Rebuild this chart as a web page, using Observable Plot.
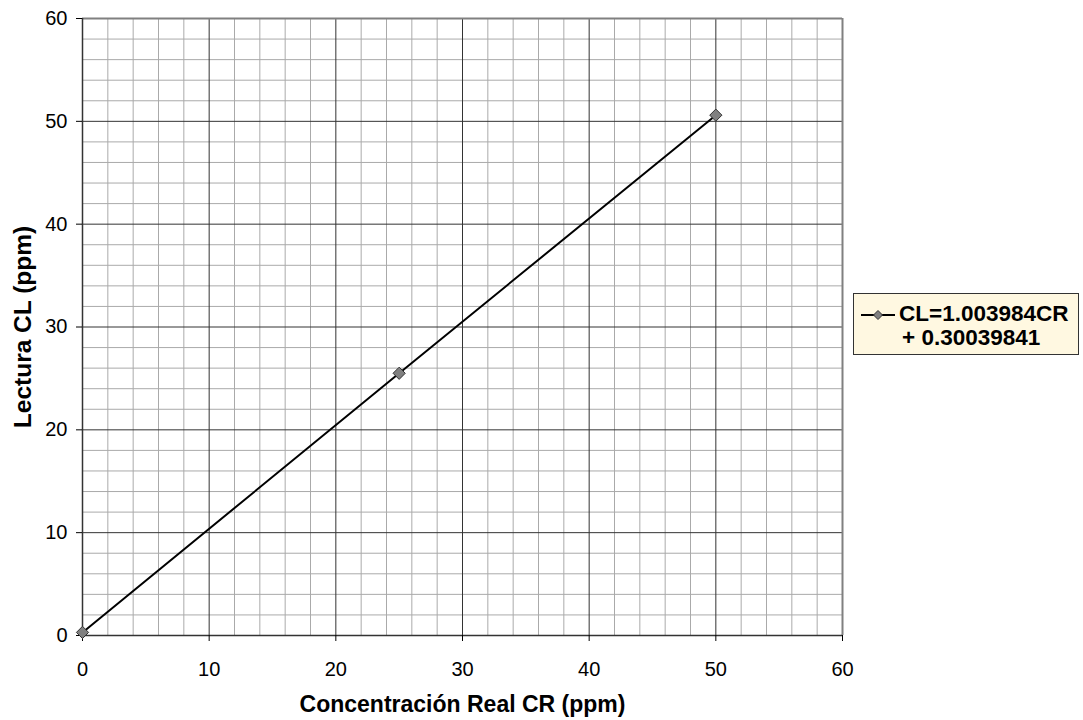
<!DOCTYPE html>
<html>
<head>
<meta charset="utf-8">
<script src="https://cdn.jsdelivr.net/npm/d3@7"></script>
<script src="https://cdn.jsdelivr.net/npm/@observablehq/plot@0.6"></script>
<style>
  html, body { margin: 0; padding: 0; background: #fff; }
  body { width: 1083px; height: 720px; position: relative; font-family: "Liberation Sans", Arial, sans-serif; }
  #legend {
    position: absolute; left: 853px; top: 293px; width: 226px; height: 62px;
    background: #fff8e1; border: 1px solid #333; box-sizing: border-box;
    font-weight: bold; font-size: 22.5px; color: #000;
  }
  #legend svg { position: absolute; left: 6px; top: 14px; }
  #legend .txt { position: absolute; left: 45px; top: 8px; line-height: 23.5px; white-space: nowrap; }
  #legend .l2 { padding-left: 3px; }
</style>
</head>
<body>
<div id="chart"></div>
<div id="legend">
  <svg width="36" height="14"><line x1="1" y1="7" x2="35" y2="7" stroke="#000" stroke-width="2"/><path d="M18,2.5 L22.5,7 L18,11.5 L13.5,7 Z" fill="#808080" stroke="#333" stroke-width="1"/></svg>
  <div class="txt">CL=1.003984CR<br><span class="l2">+ 0.30039841</span></div>
</div>
<script>
const concReal = [0, 25, 50];
const lectura = [0.3, 25.5, 50.6];
const majorTicks = [0, 10, 20, 30, 40, 50, 60];
const minorTicks = [2, 4, 6, 8, 12, 14, 16, 18, 22, 24, 26, 28, 32, 34, 36, 38, 42, 44, 46, 48, 52, 54, 56, 58];
const legendLabel = "CL=1.003984CR + 0.30039841";

const data = concReal.map((x, i) => ({x, y: lectura[i]}));

const chart = Plot.plot({
  width: 1083,
  height: 720,
  marginLeft: 82,
  marginRight: 241,
  marginTop: 18,
  marginBottom: 85,
  style: {fontFamily: "'Liberation Sans', Arial, sans-serif", fontSize: "20px", color: "#000", background: "#fff"},
  x: {domain: [0, 60]},
  y: {domain: [0, 60]},
  marks: [
    Plot.ruleX(minorTicks, {stroke: "#aaaaaa", strokeWidth: 1}),
    Plot.ruleY(minorTicks, {stroke: "#aaaaaa", strokeWidth: 1}),
    Plot.ruleX(majorTicks.slice(1, -1), {stroke: "#333333", strokeWidth: 1}),
    Plot.ruleY(majorTicks.slice(1, -1), {stroke: "#333333", strokeWidth: 1}),
    Plot.ruleX([60], {stroke: "#808080", strokeWidth: 2}),
    Plot.ruleY([60], {stroke: "#808080", strokeWidth: 2}),
    Plot.ruleX([0], {stroke: "#333", strokeWidth: 1.5}),
    Plot.ruleY([0], {stroke: "#333", strokeWidth: 1.5}),
    Plot.axisX({ticks: majorTicks, tickSize: 6, tickPadding: 20, fontSize: 20, label: "Concentración Real CR (ppm)", labelAnchor: "center", labelOffset: 76, labelArrow: "none"}),
    Plot.axisY({ticks: majorTicks, tickSize: 6, tickPadding: 9, fontSize: 20, label: "Lectura CL (ppm)", labelAnchor: "center", labelOffset: 69, labelArrow: "none"}),
    Plot.line(data, {x: "x", y: "y", stroke: "#000", strokeWidth: 2}),
    Plot.dot(data, {x: "x", y: "y", symbol: "diamond2", r: 5.5, fill: "#808080", stroke: "#333", strokeWidth: 1, title: () => legendLabel})
  ]
});
d3.select(chart).selectAll("[aria-label='x-axis label'] text")
  .attr("font-weight", "bold").attr("font-size", 23);
d3.select(chart).selectAll("[aria-label='y-axis label'] text")
  .attr("font-weight", "bold").attr("font-size", 24.5);
document.getElementById("chart").appendChild(chart);
</script>
</body>
</html>
